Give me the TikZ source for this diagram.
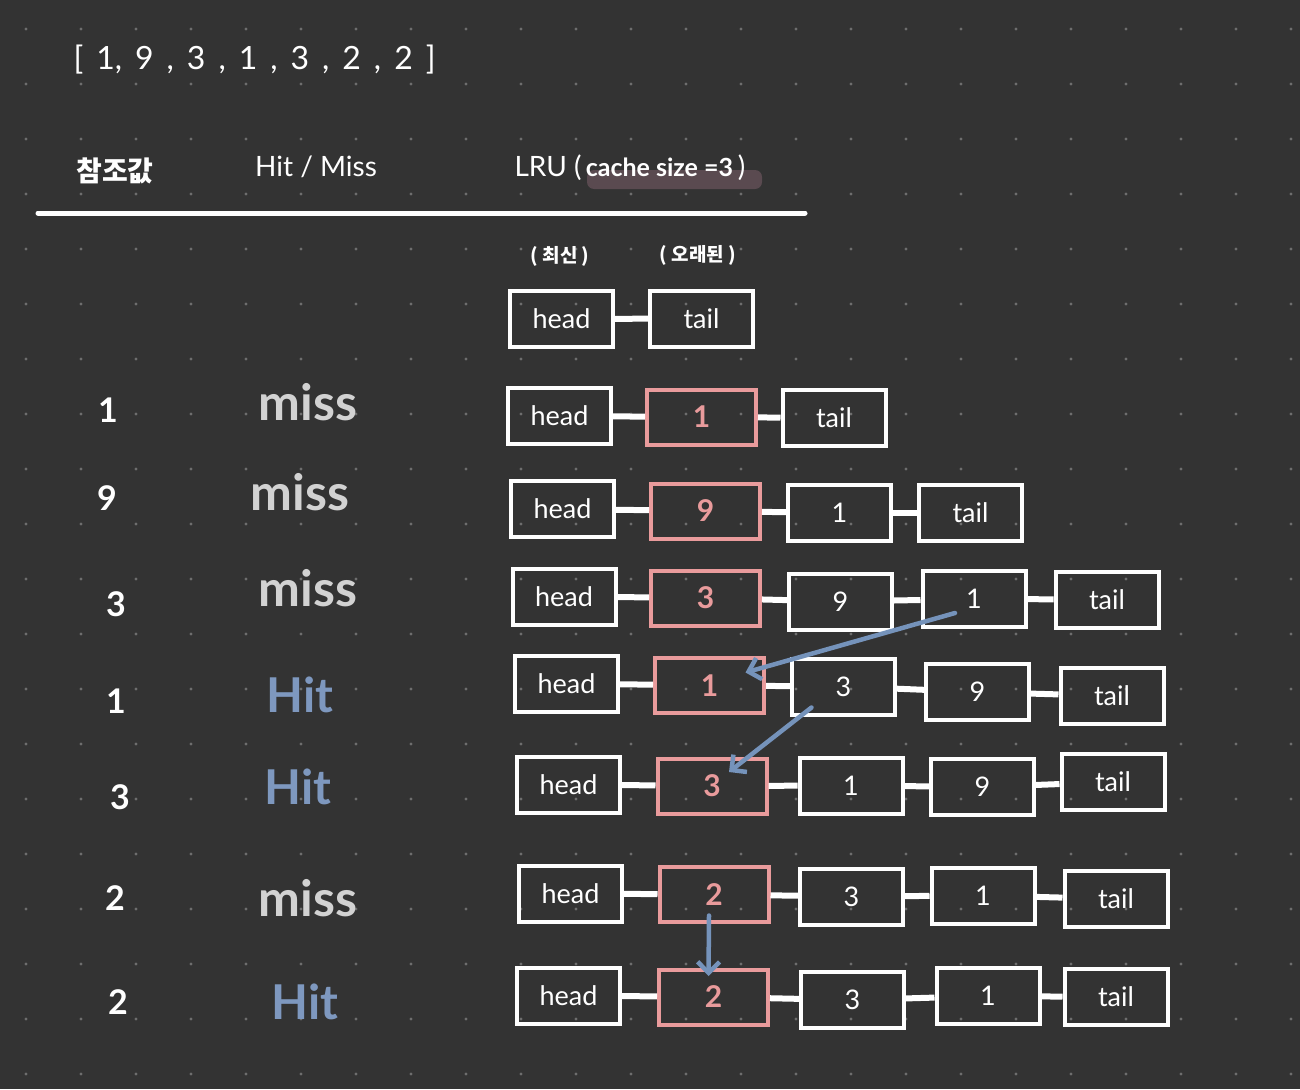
\documentclass[tikz,border=0pt]{standalone}
\usepackage{fontspec}
\setmainfont{Lato}
\newfontfamily\kr{Noto Sans CJK KR}
\usetikzlibrary{arrows.meta}
\definecolor{bg}{HTML}{333333}
\definecolor{dotc}{HTML}{6E6E6E}
\definecolor{missc}{HTML}{D2D2D2}
\definecolor{hitc}{HTML}{7E98BF}
\definecolor{pinkc}{HTML}{E99B9C}
\definecolor{arrowc}{HTML}{7593BB}
\definecolor{hlc}{HTML}{5A4A50}
\begin{document}
\begin{tikzpicture}[x=1pt,y=-1pt,
  box/.style={draw=white,line width=4pt,minimum width=103pt,minimum height=56pt,inner sep=0pt,text=white,font=\fontsize{27}{27}\selectfont},
  pbox/.style={box,draw=pinkc,minimum width=109pt,minimum height=55pt,text=pinkc,font=\bfseries\fontsize{30}{30}\selectfont},
  conn/.style={draw=white,line width=6pt},
  mv/.style={draw=arrowc,line width=4.5pt,line cap=round,-{Straight Barb[length=11pt,width=22pt,line width=4.5pt]}},
  refv/.style={text=white,font=\bfseries\fontsize{34}{34}\selectfont},
  miss/.style={text=missc,font=\bfseries\fontsize{50}{50}\selectfont},
  hit/.style={text=hitc,font=\bfseries\fontsize{48}{48}\selectfont},
  hdr/.style={text=white,font=\fontsize{28}{28}\selectfont}
]
\fill[bg] (0,0) rectangle (1300,1089);
\useasboundingbox (0,0) rectangle (1300,1089);
\foreach \i in {0,...,23}{
  \foreach \j in {0,...,19}{
    \fill[dotc] ({26+55*\i},{29+55*\j}) circle (1.6pt);
  }
}
% title
\node[hdr,anchor=west,font=\fontsize{32}{32}\selectfont] (arr) at (70,60) {\spaceskip=13pt [ 1, 9 , 3 , 1 , 3 , 2 , 2 ]};
% header
\node[hdr,font=\kr\bfseries\fontsize{28}{28}\selectfont] (h1) at (115,171) {참조값};
\node[hdr] (h2) at (316,167) {Hit / Miss};
\fill[hlc,rounded corners=7pt] (587,170) rectangle (762,189);
\node[hdr,anchor=west] (h3) at (511,168) {LRU ({\bfseries\fontsize{25}{25}\selectfont\,cache size =3}\,)};
\coordinate (la) at (38,213);
\coordinate (lb) at (805,213);
\draw[white,line width=5pt,line cap=round] (la) -- (lb);
\node[text=white,font=\kr\bfseries\fontsize{19}{19}\selectfont] (new) at (560,256) {( 최신 )};
\node[text=white,font=\kr\bfseries\fontsize{19}{19}\selectfont] (old) at (698,255) {( 오래된 )};

% left column
\node[refv] (v1) at (108,410) {1};
\node[refv] (v2) at (107,498) {9};
\node[refv] (v3) at (116,604) {3};
\node[refv] (v4) at (116,701) {1};
\node[refv] (v5) at (120,797) {3};
\node[refv] (v6) at (115,898) {2};
\node[refv] (v7) at (118,1002) {2};
\node[miss] (m1) at (308,402) {miss};
\node[miss] (m2) at (300,492) {miss};
\node[miss] (m3) at (308,588) {miss};
\node[hit]  (m4) at (300,695) {Hit};
\node[hit]  (m5) at (298,787) {Hit};
\node[miss] (m6) at (308,898) {miss};
\node[hit]  (m7) at (305,1002) {Hit};

% row 0
\node[box] (r0c0) at (561.5,319) {head};
\node[box] (r0c1) at (701.5,318.5) {tail};
\draw[conn] (r0c0) -- (r0c1);
% row 1
\node[box] (r1c0) at (559.5,416) {head};
\node[pbox] (r1c1) at (701.5,417) {1};
\node[box] (r1c2) at (834,418) {tail};
\draw[conn] (r1c0) -- (r1c1);
\draw[conn] (r1c1) -- (r1c2);
% row 2
\node[box] (r2c0) at (562.5,509) {head};
\node[pbox] (r2c1) at (705.5,511) {9};
\node[box] (r2c2) at (839.5,513) {1};
\node[box] (r2c3) at (970.5,513) {tail};
\draw[conn] (r2c0) -- (r2c1);
\draw[conn] (r2c1) -- (r2c2);
\draw[conn] (r2c2) -- (r2c3);
% row 3
\node[box] (r3c0) at (564,596.5) {head};
\node[pbox] (r3c1) at (705.5,598) {3};
\node[box] (r3c2) at (840.5,601.5) {9};
\node[box] (r3c3) at (974,599) {1};
\node[box] (r3c4) at (1107,599.5) {tail};
\draw[conn] (r3c0) -- (r3c1);
\draw[conn] (r3c1) -- (r3c2);
\draw[conn] (r3c2) -- (r3c3);
\draw[conn] (r3c3) -- (r3c4);
% row 4
\node[box] (r4c0) at (566.5,683.5) {head};
\node[pbox] (r4c1) at (709.5,685.5) {1};
\node[box] (r4c2) at (843.5,686.5) {3};
\node[box] (r4c3) at (977.5,692) {9};
\node[box] (r4c4) at (1112,696) {tail};
\draw[conn] (r4c0) -- (r4c1);
\draw[conn] (r4c1) -- (r4c2);
\draw[conn] (r4c2) -- (r4c3);
\draw[conn] (r4c3) -- (r4c4);
% row 5
\node[box] (r5c0) at (568.5,784.5) {head};
\node[pbox] (r5c1) at (712,786) {3};
\node[box] (r5c2) at (851,785.5) {1};
\node[box] (r5c3) at (982.5,787) {9};
\node[box] (r5c4) at (1113,782) {tail};
\draw[conn] (r5c0) -- (r5c1);
\draw[conn] (r5c1) -- (r5c2);
\draw[conn] (r5c2) -- (r5c3);
\draw[conn] (r5c3) -- (r5c4);
% row 6
\node[box] (r6c0) at (570.5,893.5) {head};
\node[pbox] (r6c1) at (714,894.5) {2};
\node[box] (r6c2) at (851.5,896.5) {3};
\node[box] (r6c3) at (983,895.5) {1};
\node[box] (r6c4) at (1116,899) {tail};
\draw[conn] (r6c0) -- (r6c1);
\draw[conn] (r6c1) -- (r6c2);
\draw[conn] (r6c2) -- (r6c3);
\draw[conn] (r6c3) -- (r6c4);
% row 7
\node[box] (r7c0) at (568.5,995.5) {head};
\node[pbox] (r7c1) at (713.5,997) {2};
\node[box] (r7c2) at (852.5,1000) {3};
\node[box] (r7c3) at (988,996) {1};
\node[box] (r7c4) at (1116,997) {tail};
\draw[conn] (r7c0) -- (r7c1);
\draw[conn] (r7c1) -- (r7c2);
\draw[conn] (r7c2) -- (r7c3);
\draw[conn] (r7c3) -- (r7c4);

% moves
\draw[mv] ([shift={(-19,14)}]r3c3.center) -- ([shift={(36,-13)}]r4c1.center);
\draw[mv] ([shift={(-32,21)}]r4c2.center) -- ([shift={(17,-14)}]r5c1.center);
\draw[mv] ([shift={(-5,21)}]r6c1.center) -- ([shift={(-5,-21)}]r7c1.center);
\end{tikzpicture}
\end{document}
